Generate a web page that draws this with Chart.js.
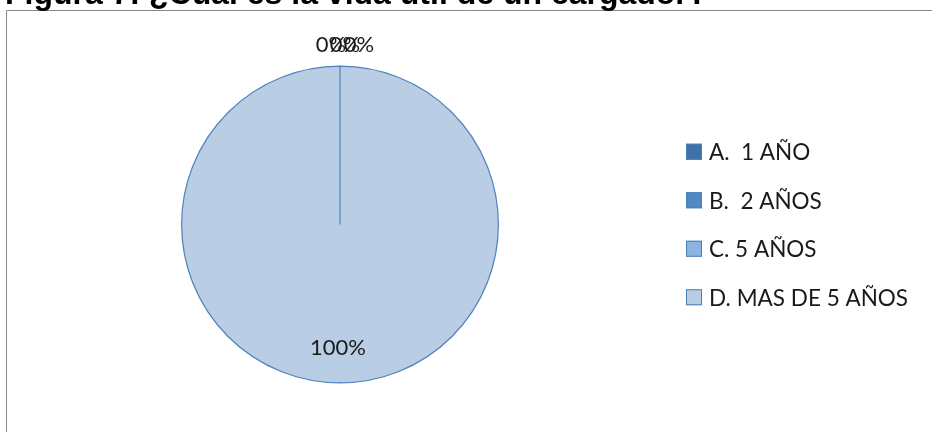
<!DOCTYPE html>
<html>
<head>
<meta charset="utf-8">
<script src="https://cdn.jsdelivr.net/npm/chart.js@4.4.1/dist/chart.umd.min.js"></script>
<style>
  html, body { margin: 0; padding: 0; background: #fff; overflow: hidden; }
  #wrap { width: 932px; height: 432px; position: relative; }
</style>
</head>
<body>
<div id="wrap"><canvas id="vidaChart" width="932" height="432"></canvas></div>
<script>
// datos de la encuesta
const titulo = 'Figura 7: ¿Cuál es la vida útil de un cargador?';
const categorias = ['A.  1 AÑO', 'B.  2 AÑOS', 'C. 5 AÑOS', 'D. MAS DE 5 AÑOS'];
const porcentajes = [0, 0, 0, 100];
const colores = ['#3f70aa', '#5189c7', '#8db3e2', '#b9cde5'];

const fuente = 'Lato, "Open Sans", sans-serif';

// marco gris y título (el título queda cortado arriba)
const marcoPlugin = {
  id: 'marco',
  beforeDraw(chart) {
    const ctx = chart.ctx;
    ctx.save();
    ctx.fillStyle = '#fff';
    ctx.fillRect(0, 0, chart.width, chart.height);
    ctx.strokeStyle = '#888888';
    ctx.lineWidth = 1;
    ctx.beginPath();
    ctx.moveTo(6.5, chart.height + 2);
    ctx.lineTo(6.5, 10.5);
    ctx.lineTo(chart.width + 2, 10.5);
    ctx.stroke();
    ctx.fillStyle = '#000';
    ctx.font = 'bold 32px "Liberation Sans", Arial, sans-serif';
    ctx.textBaseline = 'alphabetic';
    ctx.textAlign = 'left';
    ctx.fillText(titulo, 5, 4);
    ctx.restore();
  }
};

// etiquetas de porcentaje sobre cada sector
const etiquetasPlugin = {
  id: 'etiquetas',
  afterDatasetsDraw(chart) {
    const ctx = chart.ctx;
    const arcs = chart.getDatasetMeta(0).data;
    ctx.save();
    ctx.font = '22px ' + fuente;
    ctx.fillStyle = '#1a1a1a';
    ctx.textAlign = 'center';
    ctx.textBaseline = 'middle';
    let ceros = 0;
    arcs.forEach((arc, i) => {
      const p = arc.getProps(['x', 'y', 'startAngle', 'endAngle', 'outerRadius']);
      const mid = (p.startAngle + p.endAngle) / 2;
      const texto = porcentajes[i] + '%';
      let x, y;
      if (porcentajes[i] === 0) {
        // sectores vacíos: fuera del círculo, arriba, uno junto a otro
        const r = p.outerRadius + 21;
        x = p.x + Math.cos(mid) * r + (ceros - 0.65) * 14;
        y = p.y + Math.sin(mid) * r;
        ceros++;
      } else {
        const r = p.outerRadius * 0.78;
        x = p.x + Math.cos(mid) * r - 2;
        y = p.y + Math.sin(mid) * r;
      }
      ctx.fillText(texto, x, y);
    });
    ctx.restore();
  }
};

// leyenda a la derecha
const leyendaPlugin = {
  id: 'leyenda',
  afterDraw(chart) {
    const ctx = chart.ctx;
    const cy = (chart.chartArea.top + chart.chartArea.bottom) / 2;
    const paso = 48.5;
    ctx.save();
    ctx.font = '22.5px ' + fuente;
    ctx.textAlign = 'left';
    ctx.textBaseline = 'middle';
    categorias.forEach((cat, i) => {
      const y = cy + (i - (categorias.length - 1) / 2) * paso;
      ctx.fillStyle = colores[i];
      ctx.fillRect(686, y - 8, 16, 16);
      ctx.strokeStyle = '#4a7ebb';
      ctx.lineWidth = 1;
      ctx.strokeRect(686.5, y - 7.5, 15, 15);
      ctx.fillStyle = '#1a1a1a';
      ctx.fillText(cat, 709, y + 1);
    });
    ctx.restore();
  }
};

const ctx = document.getElementById('vidaChart').getContext('2d');
window.vidaChart = new Chart(ctx, {
  type: 'pie',
  data: {
    labels: categorias,
    datasets: [{
      data: porcentajes,
      backgroundColor: colores,
      borderColor: '#4f81bd',
      borderWidth: 1.2
    }]
  },
  options: {
    responsive: false,
    animation: false,
    layout: {
      padding: { top: 65, bottom: 48, left: 181, right: 433 }
    },
    plugins: {
      legend: { display: false },
      title: { display: false },
      tooltip: { enabled: false }
    }
  },
  plugins: [marcoPlugin, etiquetasPlugin, leyendaPlugin]
});
</script>
</body>
</html>
